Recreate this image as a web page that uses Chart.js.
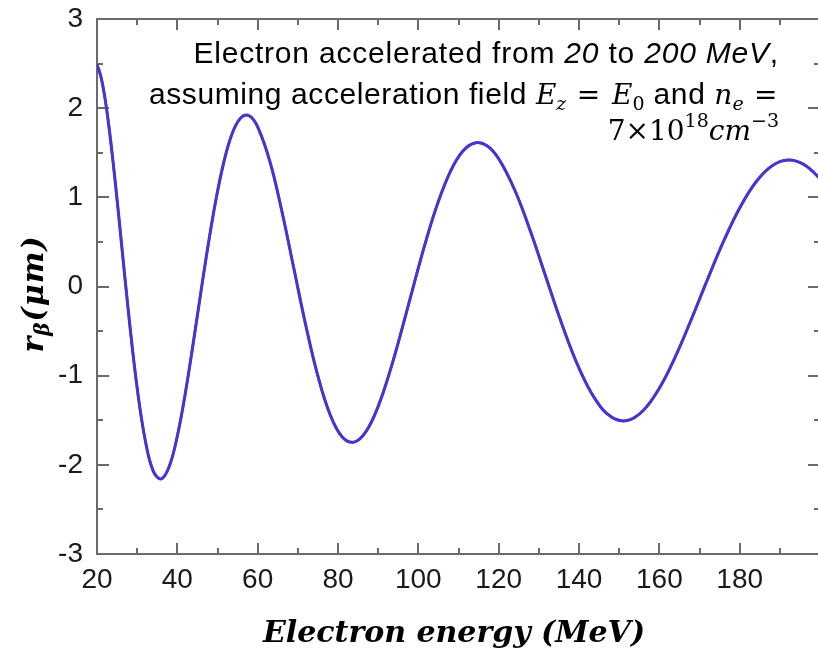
<!DOCTYPE html>
<html><head><meta charset="utf-8">
<script src="https://cdn.jsdelivr.net/npm/chart.js@4.4.1/dist/chart.umd.min.js"></script>
<style>html,body{margin:0;padding:0;background:#fff}#wrap{width:818px;height:650px;position:relative}</style>
</head><body><div id="wrap"><canvas id="c" width="818" height="650"></canvas></div>
<script>
// ---- data ----
const energyMeV = [20,21,22,23,24,25,26,28,30,32,34,36,38,40,42,44,46,48,50,52,54,56,58,60,
  63,66,69,72,75,78,81,84,87,90,93,96,99,102,105,108,111,114,117,120,
  124,128,132,136,140,144,148,152,156,160,164,168,172,176,180,184,188,192,196,200];
const rBetaBlue = [2.489,2.349,2.107,1.783,1.397,0.973,0.526,-0.361,-1.139,-1.721,-2.070,-2.158,-2.016,-1.677,-1.194,-0.622,-0.021,0.556,1.065,1.472,1.755,1.900,1.912,1.790,
  1.408,0.850,0.204,-0.440,-1.005,-1.432,-1.684,-1.745,-1.624,-1.344,-0.941,-0.464,0.041,0.529,0.955,1.292,1.514,1.610,1.581,1.433,
  1.082,0.608,0.073,-0.455,-0.915,-1.261,-1.462,-1.503,-1.390,-1.140,-0.786,-0.365,0.080,0.508,0.880,1.169,1.352,1.419,1.369,1.211];
const rBetaRed = [2.489,2.349,2.107,1.783,1.397,0.973,0.526,-0.361,-1.139,-1.721,-2.070,-2.158,-2.016,-1.677,-1.194,-0.622,-0.021,0.556,1.065,1.472,1.755,1.900,1.912,1.790,
  1.408,0.850,0.204,-0.440,-1.005,-1.432,-1.684,-1.745,-1.624,-1.344,-0.941,-0.464,0.041,0.529,0.955,1.292,1.514,1.610,1.581,1.433,
  1.082,0.608,0.073,-0.455,-0.915,-1.261,-1.462,-1.503,-1.390,-1.140,-0.786,-0.365,0.080,0.508,0.880,1.169,1.352,1.419,1.369,1.211];
const xMajorTicks = [20,40,60,80,100,120,140,160,180];
const xMinorTicks = [30,50,70,90,110,130,150,170,190];
const yMajorTicks = [-3,-2,-1,0,1,2,3];
const yMinorTicks = [-2.5,-1.5,-0.5,0.5,1.5,2.5];
const xTitle = 'Electron energy (MeV)';

// ---- styles ----
const SANS = '"Liberation Sans", Arial, sans-serif';
const MATH = '"DejaVu Serif", serif';
const AXIS_COLOR = '#6a6a6a';

function drawRuns(ctx, runs, rightX, baseline, spacing) {
  let total = 0;
  runs.forEach(r => { ctx.font = r.font; ctx.letterSpacing = (r.ls != null ? r.ls : spacing) + 'px'; r.w = ctx.measureText(r.t).width; total += r.w; });
  let x = rightX - total;
  runs.forEach(r => { ctx.font = r.font; ctx.letterSpacing = (r.ls != null ? r.ls : spacing) + 'px'; ctx.fillText(r.t, x, baseline + (r.dy || 0)); x += r.w; });
  ctx.letterSpacing = '0px';
}

const framePlugin = {
  id: 'frame',
  beforeDatasetsDraw(chart) {
    const ctx = chart.ctx, a = chart.chartArea;
    const xs = chart.scales.x, ys = chart.scales.y;
    ctx.save();
    ctx.strokeStyle = AXIS_COLOR;
    ctx.lineWidth = 2;
    ctx.beginPath();
    ctx.moveTo(a.left, a.top); ctx.lineTo(a.right + 2, a.top);
    ctx.stroke();
    ctx.beginPath();
    const tick = (v, len) => {
      const px = Math.round(xs.getPixelForValue(v));
      ctx.moveTo(px, a.bottom); ctx.lineTo(px, a.bottom - len);
      ctx.moveTo(px, a.top); ctx.lineTo(px, a.top + len);
    };
    xMajorTicks.forEach(v => { if (v > xs.min) tick(v, 11); });
    xMinorTicks.forEach(v => tick(v, 6));
    const ytick = (v, len) => {
      const py = Math.round(ys.getPixelForValue(v));
      ctx.moveTo(a.left, py); ctx.lineTo(a.left + len, py);
      ctx.moveTo(a.right + 2, py); ctx.lineTo(a.right + 2 - len, py);
    };
    yMajorTicks.forEach(v => { if (v > ys.min && v < ys.max) ytick(v, 12); });
    yMinorTicks.forEach(v => ytick(v, 6));
    ctx.stroke();
    ctx.restore();
  },
  afterDraw(chart) {
    const ctx = chart.ctx;
    ctx.save();
    ctx.fillStyle = '#000';
    ctx.textBaseline = 'alphabetic';
    const sans = '30px ' + SANS, sansI = 'italic 30px ' + SANS;
    const mI = 'italic 28px ' + MATH, mU = '28px ' + MATH;
    const subI = 'italic 19px ' + MATH, subU = '19px ' + MATH;
    drawRuns(ctx, [
      {t: 'Electron accelerated from ', font: sans},
      {t: '20', font: sansI},
      {t: ' to ', font: sans},
      {t: '200 MeV', font: sansI},
      {t: ',', font: sans}], 779, 63, 0.8);
    drawRuns(ctx, [
      {t: 'assuming acceleration field ', font: sans},
      {t: 'E', font: mI, ls: 0}, {t: 'z', font: subI, dy: 6, ls: 0},
      {t: ' = ', font: mU, ls: 1.5},
      {t: 'E', font: mI, ls: 0}, {t: '0', font: subU, dy: 6, ls: 0},
      {t: ' and ', font: sans},
      {t: 'n', font: mI, ls: 0}, {t: 'e', font: subI, dy: 6, ls: 0},
      {t: ' =', font: mU, ls: 1.5}], 779, 104, 0.6);
    drawRuns(ctx, [
      {t: '7×10', font: mU}, {t: '18', font: subU, dy: -13},
      {t: 'cm', font: mI}, {t: '−3', font: subU, dy: -13}], 779, 140, 0);

    // x axis title
    ctx.font = 'bold italic 30px ' + MATH;
    ctx.textAlign = 'center';
    ctx.fillText(xTitle, 454, 642);

    // y axis title (rotated) r_beta(um)
    ctx.translate(43, 294);
    ctx.rotate(-Math.PI / 2);
    ctx.textAlign = 'left';
    ctx.letterSpacing = '1px';
    const yRuns = [
      {t: 'r', font: 'bold italic 30px ' + MATH},
      {t: 'β', font: 'bold italic 20px ' + MATH, dy: 6},
      {t: '(μm)', font: 'bold italic 30px ' + MATH}];
    let tw = 0;
    yRuns.forEach(r => { ctx.font = r.font; r.w = ctx.measureText(r.t).width; tw += r.w; });
    let x = -tw / 2;
    yRuns.forEach(r => { ctx.font = r.font; ctx.fillText(r.t, x, r.dy || 0); x += r.w; });
    ctx.restore();
  }
};

const chart = new Chart(document.getElementById('c'), {
  type: 'line',
  data: {
    datasets: [
      {label: 'blue', order: 0, data: energyMeV.map((e, i) => ({x: e, y: rBetaBlue[i]})),
       borderColor: '#4236d6', borderWidth: 3, pointRadius: 0, tension: 0.4, fill: false},
      {label: 'red', order: 1, data: energyMeV.map((e, i) => ({x: e, y: rBetaRed[i]})),
       borderColor: '#e02a2a', borderWidth: 2.5, pointRadius: 0, tension: 0.4, fill: false}
    ]
  },
  options: {
    responsive: false,
    animation: false,
    devicePixelRatio: 1,
    layout: {padding: {top: 19, right: 0, left: 0, bottom: 0}},
    plugins: {legend: {display: false}, tooltip: {enabled: false}},
    scales: {
      x: {
        type: 'linear', min: 20, max: 199.5,
        afterFit(s) { s.height = 96; s.paddingLeft = 0; s.paddingRight = 0; },
        afterBuildTicks(s) { s.ticks = xMajorTicks.map(v => ({value: v})); },
        grid: {display: false, drawTicks: false},
        border: {display: true, color: AXIS_COLOR, width: 2},
        ticks: {padding: 9, color: '#1a1a1a', font: {family: SANS, size: 28}, maxRotation: 0, autoSkip: false}
      },
      y: {
        type: 'linear', min: -3, max: 3,
        afterFit(s) { s.width = 97; s.paddingTop = 0; s.paddingBottom = 0; },
        afterBuildTicks(s) { s.ticks = yMajorTicks.map(v => ({value: v})); },
        grid: {display: false, drawTicks: false},
        border: {display: true, color: AXIS_COLOR, width: 2},
        ticks: {padding: 14, color: '#1a1a1a', font: {family: SANS, size: 28}}
      }
    }
  },
  plugins: [framePlugin]
});
</script></body></html>
